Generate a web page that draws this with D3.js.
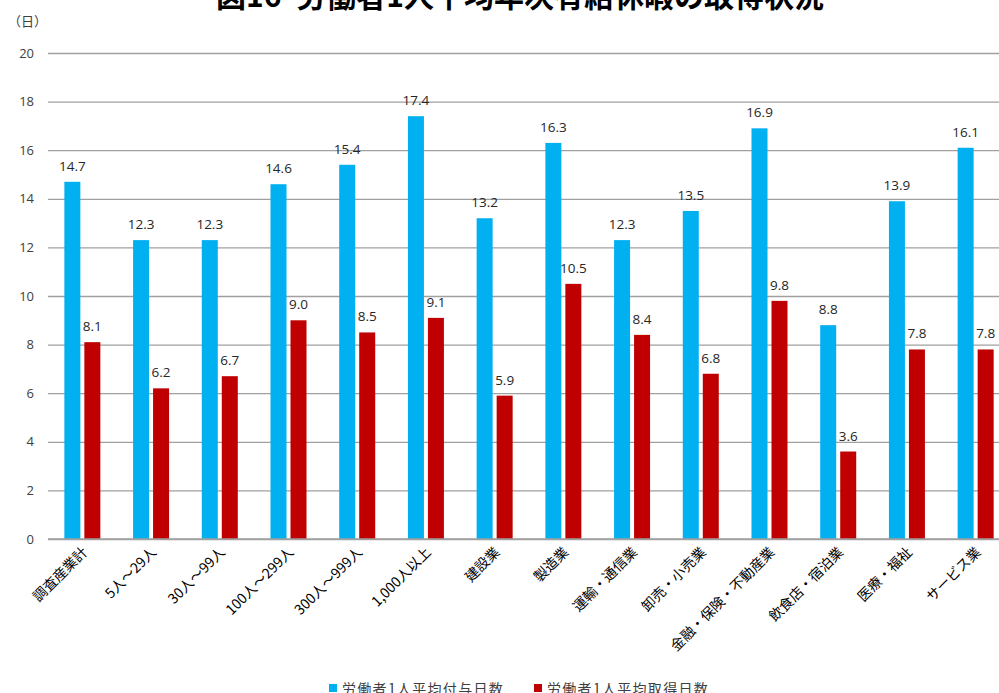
<!DOCTYPE html>
<html>
<head>
<meta charset="utf-8">
<script src="https://cdn.jsdelivr.net/npm/d3@7"></script>
<style>
  html, body { margin: 0; padding: 0; background: #fff; }
  svg { display: block; }
</style>
</head>
<body>
<svg id="chart" width="999" height="693"></svg>
<script>
const categories = ["調査産業計", "5人～29人", "30人～99人", "100人～299人", "300人～999人", "1,000人以上",
  "建設業", "製造業", "運輸・通信業", "卸売・小売業", "金融・保険・不動産業", "飲食店・宿泊業", "医療・福祉", "サービス業"];
const grantedDays = [14.7, 12.3, 12.3, 14.6, 15.4, 17.4, 13.2, 16.3, 12.3, 13.5, 16.9, 8.8, 13.9, 16.1];
const takenDays = [8.1, 6.2, 6.7, 9.0, 8.5, 9.1, 5.9, 10.5, 8.4, 6.8, 9.8, 3.6, 7.8, 7.8];
const seriesNames = ["労働者1人平均付与日数", "労働者1人平均取得日数"];
const yTicks = [0, 2, 4, 6, 8, 10, 12, 14, 16, 18, 20];
const titleText = "図16\u2002労働者1人平均年次有給休暇の取得状況";

const colors = ["#00b0f0", "#c00000"];
const jpFont = "'Noto Sans CJK JP', sans-serif";
const numFont = "'Open Sans', 'Noto Sans', sans-serif";

const svg = d3.select("#chart");
const plotLeft = 48, plotRight = 1010, plotTop = 53, plotBottom = 539;

const x = d3.scaleBand().domain(categories).range([plotLeft, plotRight]).paddingInner(0).paddingOuter(0);
const y = d3.scaleLinear().domain([0, 20]).range([plotBottom, plotTop]);
const barW = 16, barGap = 4;
const inner = d3.scaleOrdinal().domain([0, 1]).range([0, barW + barGap]);
const groupOffset = (x.bandwidth() - (2 * barW + barGap)) / 2;

// title (runs off the top of the page)
svg.append("text")
  .attr("x", 520).attr("y", 7)
  .attr("text-anchor", "middle")
  .attr("font-family", jpFont).attr("font-weight", "bold")
  .attr("font-size", 30).attr("fill", "#000")
  .text(titleText);

// unit label
svg.append("text")
  .attr("x", 8).attr("y", 26)
  .attr("font-family", jpFont).attr("font-size", 13).attr("fill", "#404040")
  .text("（日）");

// gridlines + y axis
const yAxis = d3.axisLeft(y).tickValues(yTicks).tickSize(-(plotRight - plotLeft)).tickPadding(14)
  .tickFormat(d3.format("d"));
const gy = svg.append("g").attr("transform", `translate(${plotLeft},0)`).call(yAxis);
gy.select(".domain").remove();
gy.selectAll(".tick line").attr("stroke", "#a0a0a0").attr("stroke-width", 1.3);
gy.selectAll(".tick text").attr("font-family", numFont).attr("font-size", 13).attr("fill", "#404040");

// bars with value labels
const series = [grantedDays, takenDays];
series.forEach((vals, si) => {
  const g = svg.append("g");
  g.selectAll("rect").data(vals).enter().append("rect")
    .attr("x", (d, i) => x(categories[i]) + groupOffset + inner(si))
    .attr("y", d => y(d))
    .attr("width", barW)
    .attr("height", d => y(0) - y(d))
    .attr("fill", colors[si]);
  g.selectAll("text").data(vals).enter().append("text")
    .attr("x", (d, i) => x(categories[i]) + groupOffset + inner(si) + barW / 2)
    .attr("y", d => y(d) - 11)
    .attr("text-anchor", "middle")
    .attr("font-family", numFont).attr("font-size", 13.5).attr("fill", "#262626")
    .text(d => d.toFixed(1));
});

// zero axis line
svg.append("line")
  .attr("x1", plotLeft).attr("x2", plotRight).attr("y1", y(0)).attr("y2", y(0))
  .attr("stroke", "#a0a0a0").attr("stroke-width", 1.5);

// rotated category labels
const xAxis = d3.axisBottom(x).tickSize(0).tickPadding(0);
const gx = svg.append("g").attr("transform", `translate(0,${plotBottom})`).call(xAxis);
gx.select(".domain").remove();
gx.selectAll(".tick text")
  .attr("font-family", jpFont).attr("font-size", 14).attr("fill", "#000")
  .attr("text-anchor", "end")
  .attr("dy", null)
  .attr("transform", "translate(6,14) rotate(-45)");

// legend (runs off the bottom of the page)
const legendX = [329, 534];
const lg = svg.append("g");
seriesNames.forEach((name, i) => {
  lg.append("rect").attr("x", legendX[i]).attr("y", 684).attr("width", 8).attr("height", 8).attr("fill", colors[i]);
  lg.append("text").attr("x", legendX[i] + 13).attr("y", 694)
    .attr("font-family", jpFont).attr("font-size", 14).attr("letter-spacing", 1.3).attr("fill", "#404040")
    .text(name);
});
</script>
</body>
</html>
